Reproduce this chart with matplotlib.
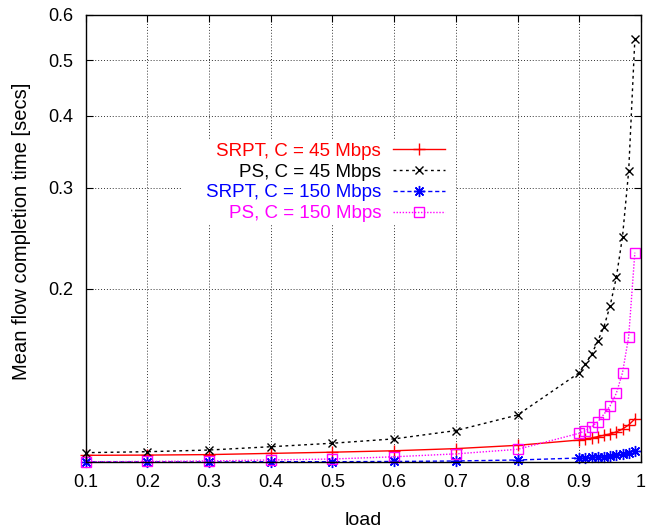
import matplotlib
matplotlib.use("Agg")
import matplotlib.pyplot as plt
from matplotlib.patches import Rectangle
from matplotlib.ticker import FixedLocator, NullLocator, FixedFormatter

plt.rcParams['font.family'] = ['Liberation Sans', 'DejaVu Sans']

load = [0.1, 0.2, 0.3, 0.4, 0.5, 0.6, 0.7, 0.8,
        0.9, 0.91, 0.92, 0.93, 0.94, 0.95, 0.96, 0.97, 0.98, 0.99]

srpt_45 = [0.1027, 0.1028, 0.1030, 0.1035, 0.1040, 0.1046, 0.1055, 0.1069,
           0.1092, 0.1097, 0.1101, 0.1107, 0.1113, 0.1119, 0.1128, 0.1141, 0.1160, 0.1188]
ps_45 = [0.1038, 0.1042, 0.1049, 0.1063, 0.1078, 0.1097, 0.1134, 0.1207,
         0.1430, 0.1481, 0.1540, 0.1624, 0.1720, 0.1871, 0.2096, 0.2466, 0.3209, 0.5438]
srpt_150 = [0.1000, 0.1000, 0.1000, 0.1001, 0.1001, 0.1002, 0.1004, 0.1008,
            0.1016, 0.1017, 0.1019, 0.1020, 0.1021, 0.1024, 0.1027, 0.1031, 0.1037, 0.1045]
ps_150 = [0.1001, 0.1002, 0.1004, 0.1008, 0.1012, 0.1021, 0.1033, 0.1052,
          0.1122, 0.1134, 0.1152, 0.1175, 0.1211, 0.1253, 0.1317, 0.1430, 0.1652, 0.2313]

labels = ["SRPT, C = 45 Mbps", "PS, C = 45 Mbps", "SRPT, C = 150 Mbps", "PS, C = 150 Mbps"]
colors = ["#ff0000", "#000000", "#0000ff", "#ff00ff"]

xticks = [0.1, 0.2, 0.3, 0.4, 0.5, 0.6, 0.7, 0.8, 0.9, 1.0]
xticklabels = ["0.1", "0.2", "0.3", "0.4", "0.5", "0.6", "0.7", "0.8", "0.9", "1"]
yticks = [0.2, 0.3, 0.4, 0.5, 0.6]
yticklabels = ["0.2", "0.3", "0.4", "0.5", "0.6"]

fig = plt.figure(figsize=(6.46, 5.29), dpi=100)
ax = fig.add_axes([0.1325, 0.1267, 0.9923 - 0.1325, 0.9722 - 0.1267])

ax.set_yscale('log')
ax.set_xlim(0.1, 1.0)
ax.set_ylim(0.1, 0.6)

ax.grid(True, which='major', color='#333333', linestyle=(0, (1, 2)), linewidth=0.7)

# white key background (gnuplot key box, no border), drawn above grid
ax.add_patch(Rectangle((0.1736, 0.532), 0.667 - 0.1736, 0.722 - 0.532,
                       transform=ax.transAxes, facecolor='white', edgecolor='none', zorder=2))

styles = [
    dict(linestyle='-', marker='+', markersize=9, markeredgewidth=1.0),
    dict(linestyle=(0, (2, 2.5)), marker='x', markersize=6, markeredgewidth=1.0),
    dict(linestyle=(0, (3, 2)), marker=(8, 2, 0), markersize=8, markeredgewidth=1.0),
    dict(linestyle=(0, (1, 1.2)), marker='s', markersize=7, markeredgewidth=1.0,
         markerfacecolor='none'),
]
series = [srpt_45, ps_45, srpt_150, ps_150]
handles = []
for y, lab, c, st in zip(series, labels, colors, styles):
    h, = ax.plot(load, y, color=c, linewidth=1.0, label=lab, clip_on=False, zorder=3, **st)
    handles.append(h)

leg = ax.legend(handles=handles, loc='center right', bbox_to_anchor=(0.647, 0.625),
                frameon=False, markerfirst=False, numpoints=1, fontsize=13.5,
                handlelength=2.75, handletextpad=0.65, labelspacing=0.2,
                borderaxespad=0, borderpad=0)
for t, c in zip(leg.get_texts(), colors):
    t.set_color(c)
leg.set_zorder(5)

ax.xaxis.set_major_locator(FixedLocator(xticks))
ax.xaxis.set_major_formatter(FixedFormatter(xticklabels))
ax.yaxis.set_major_locator(FixedLocator(yticks))
ax.yaxis.set_major_formatter(FixedFormatter(yticklabels))
ax.yaxis.set_minor_locator(NullLocator())
ax.xaxis.set_minor_locator(NullLocator())

ax.tick_params(axis='both', which='major', direction='in', length=5, width=0.8,
               top=True, right=True, labelsize=13, pad=9, colors='black')

for s in ax.spines.values():
    s.set_linewidth(1.0)
    s.set_color('black')
    s.set_zorder(6)

ax.set_xlabel("load", fontsize=14, labelpad=15)
ax.set_ylabel("Mean flow completion time [secs]", fontsize=14.5, labelpad=12)
ax.yaxis.label.set_y(0.516)

fig.savefig("out.png", dpi=100)
